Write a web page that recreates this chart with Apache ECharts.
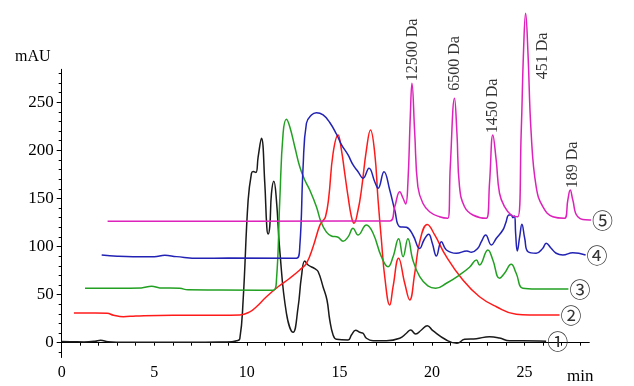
<!DOCTYPE html>
<html>
<head>
<meta charset="utf-8">
<script src="https://cdn.jsdelivr.net/npm/echarts@6/dist/echarts.min.js"></script>
<style>html,body{margin:0;padding:0;background:#fff;}#chart{width:634px;height:386px;}</style>
</head>
<body>
<div id="chart"></div>
<script>
// ---- data ----
var trace1 = [[0,1.2],[0.6,1],[1.2,0.8],[1.8,1.5],[2.1,2.6],[2.5,1],[3,0.5],[5,0.4],[7,0.5],[8.5,0.6],[9.2,1],[9.45,2],[9.62,4],[9.8,44],[10.07,148],[10.25,176],[10.34,178],[10.49,177],[10.61,193],[10.79,212.5],[10.97,166],[11.08,120],[11.15,113],[11.24,121],[11.33,155],[11.46,168],[11.6,148],[11.78,96],[12.14,30.6],[12.5,10.8],[12.77,37],[12.95,68.6],[13.13,85],[13.31,80.8],[13.67,77],[13.85,74],[14.12,58],[14.33,44.4],[14.48,23.6],[14.66,8],[14.84,3.5],[15.47,2.8],[15.65,8],[15.88,13],[16.1,10.8],[16.28,9.8],[16.46,4.6],[16.82,2],[17.54,2],[18.26,4.6],[18.62,9.8],[18.85,13.2],[19.12,9],[19.43,13.2],[19.75,17.7],[20.05,12.5],[20.78,2.8],[21.35,-0.7],[21.76,3.5],[22.4,4.2],[23.11,6.2],[23.65,4.9],[24.19,2],[24.91,2],[25.81,1.8],[26.17,1.5]];
var trace2 = [[0.66,30.9],[1.5,30.8],[2.46,30.5],[2.8,28.5],[3.33,27],[4,27.8],[6,28.6],[8.54,28.5],[9.62,28.8],[10.16,32],[10.52,37.4],[11.06,47.8],[11.69,58.2],[12.32,67],[12.86,75.6],[13.22,82.6],[13.58,99.8],[13.94,122],[14.1,126.5],[14.25,131],[14.42,150],[14.66,197],[14.93,216],[15.11,200.4],[15.29,176],[15.47,151.8],[15.65,131],[15.79,124.2],[16.01,138],[16.19,158.8],[16.46,200.4],[16.68,221.2],[16.91,197],[17.09,148.4],[17.27,106.8],[17.45,68.6],[17.72,39.2],[17.9,58.2],[18.2,87.8],[18.53,61.8],[18.8,44.4],[19.07,72.2],[19.34,105],[19.75,123],[20.15,112],[20.78,89.4],[21.67,65.2],[22.57,47.8],[23.48,37.4],[24.55,29.5],[25.27,28.8],[26.89,28.8]];
var trace3 = [[1.26,56.5],[3,56.5],[4.3,57],[4.86,58.6],[5.3,57],[6.38,56.5],[6.82,55],[8.54,54.8],[11.42,54.5],[11.6,65],[11.78,148],[11.96,217.8],[12.14,232.3],[12.32,224.6],[12.59,203.8],[12.86,183],[13.13,169.2],[13.4,158.8],[13.76,141.4],[14.0,126],[14.3,115],[14.57,111],[14.93,109.6],[15.2,105.5],[15.47,110],[15.74,119],[16.01,112],[16.46,122.4],[16.82,113.8],[17.27,89.4],[17.63,79],[17.9,89.4],[18.2,108.2],[18.44,89.4],[18.7,108.2],[18.97,86],[19.34,68.6],[19.78,59],[20.2,56.6],[20.78,61.8],[21.49,70.4],[22.03,78.4],[22.4,86],[22.57,80.8],[23.02,96.4],[23.29,86],[23.65,67],[23.92,72.2],[24.28,81.5],[24.55,72.2],[24.91,56.6],[25.63,55.8],[27.37,55.8]];
var trace4 = [[2.16,91.2],[3,90],[3.85,89.5],[5,89.5],[5.57,90.9],[6.2,89.5],[7.46,87.8],[9,88],[12.68,87.8],[12.86,99.8],[13.04,183],[13.22,228.2],[13.49,236.8],[13.76,239.2],[14.12,236.8],[14.48,229],[14.84,217],[15.11,206],[15.47,195.2],[15.74,184.8],[16.01,177.8],[16.28,171],[16.6,181.4],[16.91,167.4],[17.09,160.6],[17.41,177.8],[17.72,158.8],[17.99,138],[18.26,120.6],[18.62,120],[18.97,112],[19.34,98],[19.57,106.8],[19.82,112.7],[20.02,103.4],[20.24,90.2],[20.51,105],[20.78,96.4],[21.32,93],[21.89,95.4],[22.13,94],[22.48,98.2],[22.67,105],[22.9,112],[23.21,101.6],[23.48,108.6],[23.83,117.2],[23.98,124.2],[24.16,132.8],[24.28,132.8],[24.37,130],[24.46,131.8],[24.52,113.8],[24.61,95.4],[24.74,110.2],[24.86,123.1],[25.01,108.6],[25.19,94.6],[25.63,93],[25.99,98.2],[26.17,103.4],[26.44,98.2],[26.71,93],[27.07,91.2],[27.61,93.6],[28.3,91.2]];
var trace5 = [[2.48,126.2],[10,126.4],[17.72,126.6],[17.99,141.4],[18.26,157],[18.44,150.2],[18.58,144.2],[18.7,165.8],[18.83,235],[18.92,269.8],[19.07,217.8],[19.24,162.2],[19.51,145],[19.87,136.2],[20.41,131],[20.86,129.4],[20.99,183],[21.22,254.2],[21.35,217.8],[21.49,162.2],[21.76,141.4],[22.21,132.8],[22.94,129.4],[23.11,165.8],[23.29,216],[23.47,190],[23.65,155.4],[23.92,141.4],[24.28,132.8],[24.64,131],[24.82,217.8],[24.95,304.4],[25.06,342.5],[25.18,304.4],[25.36,217.8],[25.63,162.2],[25.99,141.4],[26.53,131],[27.16,129.4],[27.34,148.4],[27.47,158.8],[27.61,148.4],[27.88,131],[28.51,127.6],[29.2,127.6]];
var traceNames = ['①','②','③','④','⑤'];
var traceColors = ['#1a1a1a','#ff1a1a','#22a022','#2222b4','#dd22bb'];
var peakLabels = ['12500 Da','6500 Da','1450 Da','451 Da','189 Da'];
var peakLabelX = [18.95, 21.25, 23.3, 25.98, 27.6];
var peakLabelY = [304.4, 290.4, 246.2, 298.2, 184.8];
var xTickLabels = [0,5,10,15,20,25];
var yTickLabels = [0,50,100,150,200,250];

var xTicks = []; for (var i = 0; i <= 28; i++) xTicks.push(i);
var yTicks = []; for (var j = -10; j <= 280; j += 10) yTicks.push(j);

var serif = 'Liberation Serif';
var traces = [trace1, trace2, trace3, trace4, trace5];
var series = traces.map(function (d, k) {
  return {
    type: 'line', name: traceNames[k], data: d, symbol: 'none',
    smooth: 0.45, clip: false, silent: true,
    lineStyle: { color: traceColors[k], width: 1.5 },
    itemStyle: { color: traceColors[k] },
    endLabel: { show: true, formatter: traceNames[k], distance: 1,
      fontFamily: 'Noto Sans CJK SC', fontSize: 21, color: '#333' }
  };
});
series.push({
  type: 'scatter', symbolSize: 0, silent: true, clip: false,
  data: peakLabels.map(function (t, k) { return { value: [peakLabelX[k], peakLabelY[k]], name: t }; }),
  label: { show: true, position: 'inside', rotate: 90, formatter: '{b}',
    fontFamily: serif, fontSize: 16, color: '#000' }
});

var chart = echarts.init(document.getElementById('chart'), null, { renderer: 'canvas' });
chart.setOption({
  animation: false,
  backgroundColor: '#fff',
  grid: { left: 61.7, right: 44.7, top: 69.3, bottom: 28.5, containLabel: false },
  xAxis: {
    type: 'value', min: 0, max: 28.5, interval: 5,
    axisLine: { lineStyle: { color: '#000', width: 1 } },
    axisTick: { show: true, customValues: xTicks, length: 3, lineStyle: { color: '#000' } },
    axisLabel: { customValues: xTickLabels, fontFamily: serif, fontSize: 16, color: '#000', margin: 7 },
    splitLine: { show: false }
  },
  yAxis: [{
    type: 'value', min: -15.4, max: 284.3,
    axisLine: { show: true, lineStyle: { color: '#000', width: 1 } },
    axisTick: { show: true, customValues: yTicks, length: 3, lineStyle: { color: '#000' } },
    axisLabel: { customValues: yTickLabels, fontFamily: serif, fontSize: 17, color: '#000', margin: 8 },
    splitLine: { show: false }
  }, {
    type: 'value', min: -15.4, max: 284.3, position: 'left',
    axisLine: { show: false },
    axisTick: { show: true, customValues: yTickLabels, length: 5, lineStyle: { color: '#000' } },
    axisLabel: { show: false },
    splitLine: { show: false }
  }],
  graphic: [
    { type: 'text', left: 15, top: 49, style: { text: 'mAU', font: '16px "Liberation Serif"', fill: '#000' } },
    { type: 'text', left: 567, top: 368, style: { text: 'min', font: '17px "Liberation Serif"', fill: '#000' } }
  ],
  series: series
});
</script>
</body>
</html>
